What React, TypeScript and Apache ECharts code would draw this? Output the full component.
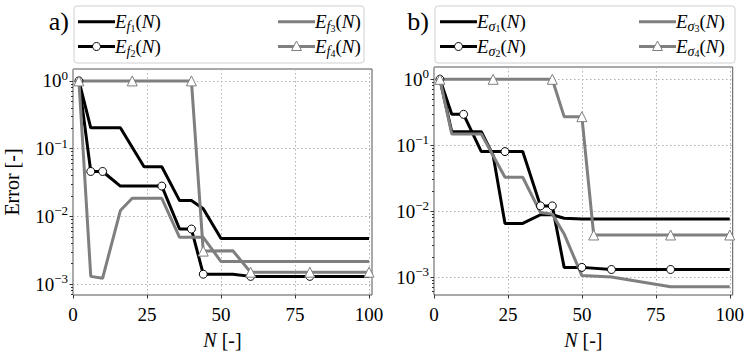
import React, { useEffect, useRef } from "react";
import * as echarts from "echarts";

// ---------- tick definitions ----------
const X_TICKS = [0, 25, 50, 75, 100];
const Y_MAJOR = [0.001, 0.01, 0.1, 1];
const Y_MINOR: number[] = [];
for (const d of [0.0001, 0.001, 0.01, 0.1, 1]) {
  for (const k of [2, 3, 4, 5, 6, 7, 8, 9]) Y_MINOR.push(+(k * d).toPrecision(3));
}

// ---------- panel a) ----------
const ef1N = [2, 6, 16, 24, 30, 36, 40, 44, 50, 100];
const ef1 = [1, 0.203, 0.203, 0.054, 0.054, 0.0171, 0.0171, 0.013, 0.0047, 0.0047];
const ef2N = [2, 6, 10, 16, 30, 36, 40, 44, 54, 60, 80, 100];
const ef2 = [1, 0.046, 0.046, 0.028, 0.028, 0.0065, 0.0065, 0.0014, 0.0014, 0.0013, 0.0013, 0.0013];
const ef2Markers = [2, 6, 10, 30, 40, 44, 60, 80];
const ef3N = [2, 6, 10, 16, 20, 30, 36, 44, 50, 100];
const ef3 = [1, 0.0013, 0.00122, 0.0122, 0.0185, 0.0185, 0.0049, 0.0049, 0.00215, 0.00215];
const ef4N = [2, 20, 40, 44, 54, 60, 80, 100];
const ef4 = [1, 1, 1, 0.00307, 0.0031, 0.0015, 0.0015, 0.0015];
const ef4Markers = [2, 20, 40, 44, 60, 80, 100];

// ---------- panel b) ----------
const es1N = [2, 6, 16, 20, 24, 30, 36, 40, 44, 50, 100];
const es1 = [1, 0.16, 0.16, 0.07, 0.0065, 0.0065, 0.0088, 0.0088, 0.0078, 0.0076, 0.0076];
const es2N = [2, 6, 10, 16, 24, 30, 36, 40, 44, 50, 60, 80, 100];
const es2 = [1, 0.294, 0.294, 0.08, 0.08, 0.08, 0.012, 0.012, 0.0014, 0.0014, 0.0013, 0.0013, 0.0013];
const es2Markers = [2, 10, 24, 36, 40, 50, 60, 80];
const es3N = [2, 6, 16, 24, 30, 36, 40, 44, 50, 60, 80, 100];
const es3 = [1, 0.148, 0.148, 0.0326, 0.0326, 0.0095, 0.009, 0.0045, 0.00105, 0.001, 0.00071, 0.00071];
const es4N = [2, 20, 40, 44, 50, 54, 80, 100];
const es4 = [1, 1, 1, 0.271, 0.271, 0.00434, 0.00434, 0.00434];
const es4Markers = [2, 20, 40, 50, 54, 80, 100];

const BLACK = "#000000";
const GRAY = "#7f7f7f";
const FONT = "Liberation Serif";

const Y_RANGE = [
  [Math.pow(10, -3.161), Math.pow(10, 0.1756)],
  [Math.pow(10, -3.273), Math.pow(10, 0.1866)],
];

function series(
  name: string,
  xs: number[],
  ys: number[],
  color: string,
  panel: number,
  marker: string | null,
  markerNs: number[]
) {
  return {
    name,
    type: "line",
    xAxisIndex: panel,
    yAxisIndex: panel * 2,
    symbol: marker || "none",
    showSymbol: !!marker,
    symbolSize: marker === "triangle" ? 10 : 8,
    lineStyle: { color, width: 3 },
    itemStyle: { color: "#ffffff", borderColor: color, borderWidth: 1 },
    emphasis: { disabled: true },
    data: xs.map((n, i) => ({
      value: [n, ys[i]],
      symbol: marker && markerNs.includes(n) ? marker : "none",
    })),
  };
}

function supLabel(v: number) {
  const e = Math.round(Math.log10(v));
  const s = e < 0 ? "\u2212" + Math.abs(e) : String(e);
  return `{b|10}{s|${s}}`;
}

const yRich = {
  b: { fontSize: 19, fontFamily: FONT, color: "#000", lineHeight: 24 },
  s: { fontSize: 13, fontFamily: FONT, color: "#000", lineHeight: 12, verticalAlign: "top" },
};

function xAxis(panel: number) {
  return {
    type: "value",
    gridIndex: panel,
    min: 0,
    max: 101,
    name: "{i|N} [-]",
    nameLocation: "middle",
    nameGap: 35,
    nameTextStyle: {
      fontSize: 20,
      fontFamily: FONT,
      color: "#000",
      rich: {
        i: { fontSize: 20, fontFamily: FONT, fontStyle: "italic", color: "#000" },
      },
    },
    axisLine: { show: false },
    axisTick: { show: true, customValues: X_TICKS, length: 3.5, lineStyle: { color: "#333" } },
    axisLabel: {
      customValues: X_TICKS,
      fontSize: 19,
      fontFamily: FONT,
      color: "#000",
      margin: 10,
      hideOverlap: false,
    },
    splitLine: { show: true, lineStyle: { color: "#b0b0b0", type: [1.5, 2.5], width: 1 } },
  };
}

function yAxes(panel: number) {
  const [mn, mx] = Y_RANGE[panel];
  return [
    {
      type: "log",
      gridIndex: panel,
      position: "left",
      min: mn,
      max: mx,
      name: panel === 0 ? "Error [-]" : "",
      nameLocation: "middle",
      nameGap: 51,
      nameRotate: 90,
      nameTextStyle: { fontSize: 20, fontFamily: FONT, color: "#000" },
      axisLine: { show: false },
      axisTick: { show: true, customValues: Y_MAJOR, length: 3.5, lineStyle: { color: "#333" } },
      axisLabel: {
        customValues: Y_MAJOR,
        formatter: supLabel,
        rich: yRich,
        margin: 5,
        hideOverlap: false,
      },
      splitLine: { show: true, lineStyle: { color: "#b0b0b0", type: [1.5, 2.5], width: 1 } },
    },
    {
      type: "log",
      gridIndex: panel,
      position: "left",
      offset: 0,
      min: mn,
      max: mx,
      axisLine: { show: false },
      axisTick: { show: true, customValues: Y_MINOR, length: 2, lineStyle: { color: "#333" } },
      axisLabel: { show: false },
      splitLine: { show: false },
    },
  ];
}

const legRich = {
  e: { fontSize: 19, fontFamily: FONT, fontStyle: "italic", color: "#000", lineHeight: 24 },
  p: { fontSize: 19, fontFamily: FONT, color: "#000", lineHeight: 24 },
  s: { fontSize: 14, fontFamily: FONT, fontStyle: "italic", color: "#000", lineHeight: 13, verticalAlign: "bottom" },
  ss: { fontSize: 10, fontFamily: FONT, color: "#000", lineHeight: 9, verticalAlign: "bottom" },
};

function legendEntry(
  x: number,
  y: number,
  color: string,
  marker: string | null,
  sub: string,
  idx: string
) {
  const els: any[] = [
    {
      type: "line",
      shape: { x1: x, y1: y, x2: x + 37, y2: y },
      style: { stroke: color, lineWidth: 3 },
    },
  ];
  const cx = x + 18.5;
  if (marker === "circle") {
    els.push({
      type: "circle",
      shape: { cx, cy: y, r: 4 },
      style: { fill: "#fff", stroke: color, lineWidth: 1 },
    });
  } else if (marker === "triangle") {
    els.push({
      type: "polygon",
      shape: { points: [[cx, y - 5.5], [cx - 5, y + 4], [cx + 5, y + 4]] },
      style: { fill: "#fff", stroke: color, lineWidth: 1 },
    });
  }
  els.push({
    type: "text",
    x: x + 37,
    y,
    style: {
      text: `{e|E}{s|${sub}}{ss|${idx}}{p|(}{e|N}{p|)}`,
      rich: legRich,
      verticalAlign: "middle",
      align: "left",
    },
  });
  return els;
}

function legendBox(x: number, w: number, sub: string, c1: number, c2: number) {
  return [
    {
      type: "rect",
      shape: { x, y: 6, width: w, height: 57, r: 3 },
      style: { fill: "#fff", stroke: "#d0d0d0", lineWidth: 1 },
    },
    ...legendEntry(c1, 21.7, BLACK, null, sub, "1"),
    ...legendEntry(c1, 46.5, BLACK, "circle", sub, "2"),
    ...legendEntry(c2, 21.7, GRAY, null, sub, "3"),
    ...legendEntry(c2, 46.5, GRAY, "triangle", sub, "4"),
  ];
}

const option: any = {
  animation: false,
  backgroundColor: "#ffffff",
  grid: [
    { left: 73, top: 69, width: 299, height: 228, show: true, borderColor: "#555", borderWidth: 1 },
    { left: 434, top: 67, width: 301, height: 228, show: true, borderColor: "#555", borderWidth: 1 },
  ],
  xAxis: [xAxis(0), xAxis(1)],
  yAxis: [...yAxes(0), ...yAxes(1)],
  series: [
    series("Ef1", ef1N, ef1, BLACK, 0, null, []),
    series("Ef2", ef2N, ef2, BLACK, 0, "circle", ef2Markers),
    series("Ef3", ef3N, ef3, GRAY, 0, null, []),
    series("Ef4", ef4N, ef4, GRAY, 0, "triangle", ef4Markers),
    series("Es1", es1N, es1, BLACK, 1, null, []),
    series("Es2", es2N, es2, BLACK, 1, "circle", es2Markers),
    series("Es3", es3N, es3, GRAY, 1, null, []),
    series("Es4", es4N, es4, GRAY, 1, "triangle", es4Markers),
  ],
  graphic: [
    {
      type: "text",
      x: 69,
      y: 21,
      style: { text: "a)", font: `26px ${FONT}`, fill: "#000", align: "right", verticalAlign: "middle" },
    },
    {
      type: "text",
      x: 429,
      y: 21,
      style: { text: "b)", font: `26px ${FONT}`, fill: "#000", align: "right", verticalAlign: "middle" },
    },
    ...legendBox(74, 290, "f", 78, 278),
    ...legendBox(435, 300, "\u03c3", 440, 639),
  ],
};

export default function App() {
  const ref = useRef<HTMLDivElement>(null);
  useEffect(() => {
    const chart = echarts.init(ref.current!, null, { renderer: "svg" });
    chart.setOption(option);
    return () => chart.dispose();
  }, []);
  return (
    <div
      ref={ref}
      style={{ position: "absolute", left: 0, top: 0, width: 747, height: 355 }}
    />
  );
}
